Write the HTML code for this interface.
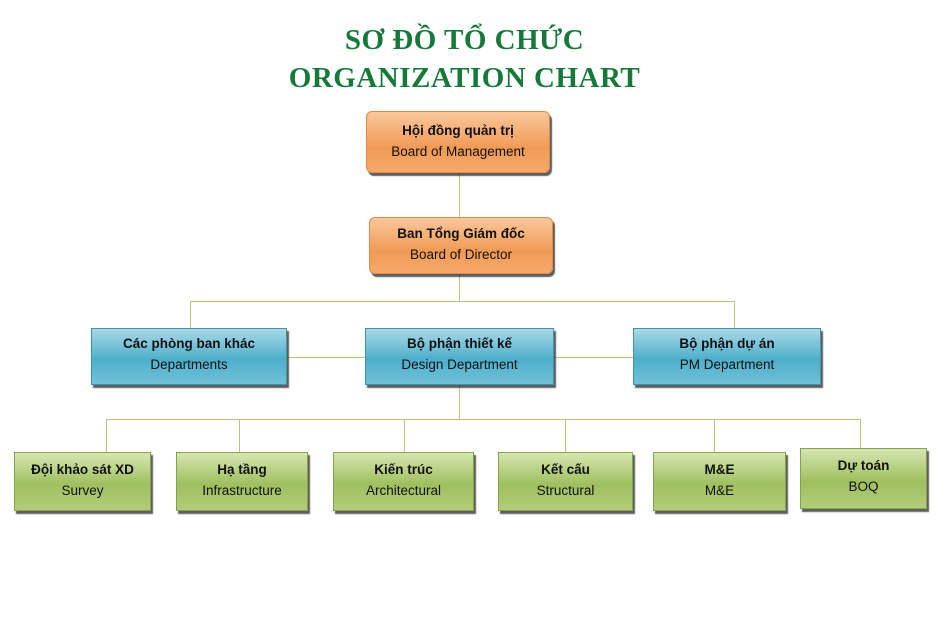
<!DOCTYPE html>
<html><head><meta charset="utf-8"><style>
body{margin:0;width:937px;height:639px;background:#fff;position:relative;overflow:hidden;font-family:"Liberation Sans","DejaVu Sans",sans-serif}
.t{position:absolute;left:-4px;width:937px;text-align:center;font-family:"Liberation Serif",serif;font-weight:bold;color:#16793a;font-size:29px;letter-spacing:0.5px}
.b{position:absolute;box-sizing:border-box;text-align:center;font-size:13.5px;color:#111;box-shadow:2px 3px 1px rgba(40,40,40,0.75)}
.b b{display:block;font-size:13.5px;margin-bottom:6px}
.o{background:linear-gradient(#f9c89c,#f19a55 60%,#f5a96a);border:1px solid #e08a4a;border-radius:6px;padding-top:11px}
.u{background:linear-gradient(#a9d9e6,#4eafcb 55%,#6fc0d6);border:1px solid #3d95b0;padding-top:7px}
.g{background:linear-gradient(#d6e6b1,#9fc05f 55%,#b2cc7a);border:1px solid #84a44c;padding-top:9px}
.l{position:absolute;background:#b3c57e}
</style></head><body>
<div class="t" style="top:24px">SƠ ĐỒ TỔ CHỨC</div>
<div class="t" style="top:62px">ORGANIZATION CHART</div>

<div class="l" style="left:459px;top:173px;width:1px;height:44px"></div>
<div class="l" style="left:459px;top:274px;width:1px;height:28px"></div>
<div class="l" style="left:190px;top:301px;width:545px;height:1px"></div>
<div class="l" style="left:190px;top:301px;width:1px;height:27px"></div>
<div class="l" style="left:734px;top:301px;width:1px;height:27px"></div>
<div class="l" style="left:287px;top:357px;width:346px;height:1px"></div>
<div class="l" style="left:459px;top:385px;width:1px;height:34px"></div>
<div class="l" style="left:106px;top:419px;width:755px;height:1px"></div>
<div class="l" style="left:106px;top:419px;width:1px;height:33px"></div>
<div class="l" style="left:239px;top:419px;width:1px;height:33px"></div>
<div class="l" style="left:404px;top:419px;width:1px;height:33px"></div>
<div class="l" style="left:565px;top:419px;width:1px;height:33px"></div>
<div class="l" style="left:714px;top:419px;width:1px;height:33px"></div>
<div class="l" style="left:860px;top:419px;width:1px;height:29px"></div>

<div class="b o" style="left:366px;top:111px;width:184px;height:62px"><b>Hội đồng quản trị</b>Board of Management</div>
<div class="b o" style="left:369px;top:217px;width:184px;height:57px;padding-top:8px"><b>Ban Tổng Giám đốc</b>Board of Director</div>

<div class="b u" style="left:91px;top:328px;width:196px;height:57px"><b>Các phòng ban khác</b>Departments</div>
<div class="b u" style="left:365px;top:328px;width:189px;height:57px"><b>Bộ phận thiết kế</b>Design Department</div>
<div class="b u" style="left:633px;top:328px;width:188px;height:57px"><b>Bộ phận dự án</b>PM Department</div>

<div class="b g" style="left:14px;top:452px;width:137px;height:59px"><b>Đội khảo sát XD</b>Survey</div>
<div class="b g" style="left:176px;top:452px;width:132px;height:59px"><b>Hạ tầng</b>Infrastructure</div>
<div class="b g" style="left:333px;top:452px;width:141px;height:59px"><b>Kiến trúc</b>Architectural</div>
<div class="b g" style="left:498px;top:452px;width:135px;height:59px"><b>Kết cấu</b>Structural</div>
<div class="b g" style="left:653px;top:452px;width:133px;height:59px"><b>M&amp;E</b>M&amp;E</div>
<div class="b g" style="left:800px;top:448px;width:127px;height:61px;padding-top:9px"><b>Dự toán</b>BOQ</div>
</body></html>
